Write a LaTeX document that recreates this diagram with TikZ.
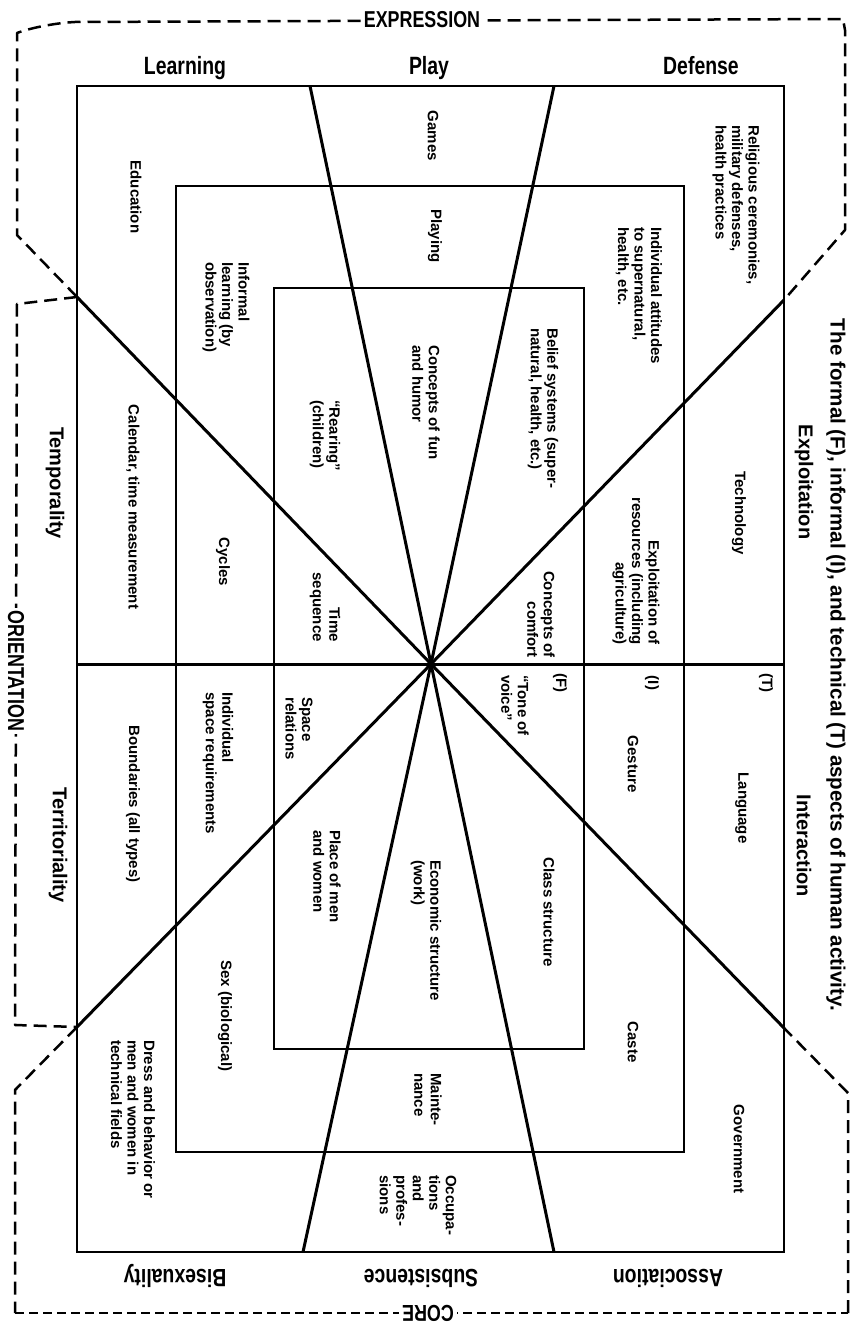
\documentclass[tikz,border=0pt]{standalone}
\usepackage{fontspec}
\setmainfont{Liberation Sans}
\newfontfamily\condfont[FakeStretch=0.777]{Liberation Sans}
\begin{document}
\begin{tikzpicture}[x=1pt,y=-1pt,
  frame/.style={line width=2.9pt, line join=miter},
  ray/.style={line width=3pt},
  bracket/.style={line width=2.5pt, dash pattern=on 13pt off 7pt, line join=round},
  finebracket/.style={line width=2.2pt, dash pattern=on 9pt off 5pt},
  inner/.style={rotate=-90, font=\fontsize{15}{16.5}\selectfont\bfseries, inner sep=0pt, align=left},
  innerr/.style={inner, align=right},
  head/.style={font=\condfont\fontsize{25}{25}\selectfont\bfseries, inner sep=0pt},
  side/.style={rotate=-90, font=\fontsize{20}{22}\selectfont\bfseries, inner sep=0pt},
  brlabel/.style={font=\condfont\fontsize{23}{23}\selectfont\bfseries, fill=white, inner sep=3pt}]
\useasboundingbox[fill=white] (0,0) rectangle (851,1332);

% key points
\coordinate (C) at (431,664);
\coordinate (DUL) at (77,297);
\coordinate (DUR) at (784,300);
\coordinate (DLL) at (77,1027);
\coordinate (DLR) at (784,1028);
\coordinate (PTL) at (310,86);
\coordinate (PTR) at (554,86);
\coordinate (PBL) at (303,1252);
\coordinate (PBR) at (554,1252);
\coordinate (ML) at (77,664);
\coordinate (MR) at (784,664);

% rectangles
\draw[frame] (77,86) rectangle (784,1252);
\draw[frame] (176,186) rectangle (684,1152);
\draw[frame] (274,288) rectangle (584,1049);

% rays
\draw[ray] (ML) -- (MR);
\draw[ray] (DUL) -- (C) -- (DLR);
\draw[ray] (DUR) -- (C) -- (DLL);
\draw[ray] (PTL) -- (C) -- (PBR);
\draw[ray] (PTR) -- (C) -- (PBL);

% dashed brackets
\draw[bracket] (DUL) -- (17,235) -- (17,33) .. controls (30,28) and (55,23) .. (75,22) -- (843,19) -- (845,30) -- (845,230) -- (DUR);
\draw[bracket] (DUL) -- (17,304) -- (15,1025) -- (DLL);
\draw[bracket] (DLL) -- (15,1090) -- (15,1313);
\draw[finebracket] (15,1313) -- (848,1313);
\draw[bracket] (848,1313) -- (848,1093) -- (DLR);

\node[brlabel] (expr) at (422,20) {EXPRESSION};
\node[brlabel, rotate=-90] (orient) at (16,671) {ORIENTATION};
\node[brlabel, rotate=180] (core) at (428,1313) {CORE};

% headers
\node[head, anchor=base] (learn) at (185,75) {Learning};
\node[head, anchor=base] (play) at (429,75) {Play};
\node[head, anchor=base] (defense) at (701,75) {Defense};
\node[head, anchor=base, rotate=180] (bisex) at (175,1269) {Bisexuality};
\node[head, anchor=base, rotate=180] (subs) at (421,1269) {Subsistence};
\node[head, anchor=base, rotate=180] (assoc) at (668,1269) {Association};

\node[side] (temp) at (55,483) {Temporality};
\node[side] (terr) at (58,845) {Territoriality};
\node[side] (expl) at (804,482) {Exploitation};
\node[side] (inter) at (804,846) {Interaction};
\node[side, font=\fontsize{20.6}{22}\selectfont\bfseries] (title) at (836,665) {The formal (F), informal (I), and technical (T) aspects of human activity.};

% inner texts
\node[inner] (games) at (433,136) {Games};
\node[inner] (educ) at (136,197) {Education};
\node[inner, anchor=west] (relig) at (736,125) {Religious ceremonies,\\military defenses,\\health practices};
\node[inner] (playing) at (435,236) {Playing};
\node[inner, anchor=west] (indiv) at (639,227) {Individual attitudes\\to supernatural,\\health, etc.};
\node[inner, anchor=west] (informal) at (226,262) {Informal\\learning (by\\observation)};
\node[inner, anchor=west] (fun) at (426,345) {Concepts of fun\\and humor};
\node[inner, anchor=west] (belief) at (543,328) {Belief systems (super-\\natural, health, etc.)};
\node[inner, anchor=west] (rearing) at (325,400) {“Rearing”\\(children)};
\node[inner] (calendar) at (133,507) {Calendar, time measurement};
\node[inner] (cycles) at (223,562) {Cycles};
\node[inner] (tech) at (739,513) {Technology};
\node[innerr, anchor=east] (exres) at (636,645) {Exploitation of\\resources (including\\agriculture)};
\node[innerr, anchor=east] (comfort) at (541,658) {Concepts of\\comfort};
\node[innerr, anchor=east] (timeseq) at (325,642) {Time\\sequence};
\node[inner] (T) at (766,683) {(T)};
\node[inner] (I) at (652,683) {(I)};
\node[inner] (F) at (560,683) {(F)};
\node[inner, anchor=west] (tone) at (515,675) {“Tone of\\voice”};
\node[inner, anchor=west] (space) at (299,697) {Space\\relations};
\node[inner, anchor=west] (indspace) at (218,692) {Individual\\space requirements};
\node[inner] (bound) at (133,804) {Boundaries (all types)};
\node[inner] (gesture) at (633,764) {Gesture};
\node[inner] (lang) at (742,808) {Language};
\node[inner, anchor=west] (place) at (327,830) {Place of men\\and women};
\node[inner, anchor=west] (econ) at (426,860) {Economic structure\\(work)};
\node[inner] (class) at (549,912) {Class structure};
\node[inner] (sex) at (225,1016) {Sex (biological)};
\node[inner] (caste) at (633,1042) {Caste};
\node[inner, anchor=west] (maint) at (428,1073) {Mainte-\\nance};
\node[inner, anchor=west] (dress) at (133,1040) {Dress and behavior or\\men and women in\\technical fields};
\node[inner] (gov) at (739,1149) {Government};
\node[inner, anchor=west] (occ) at (418,1175) {Occupa-\\tions\\and\\profes-\\sions};
\end{tikzpicture}
\end{document}
